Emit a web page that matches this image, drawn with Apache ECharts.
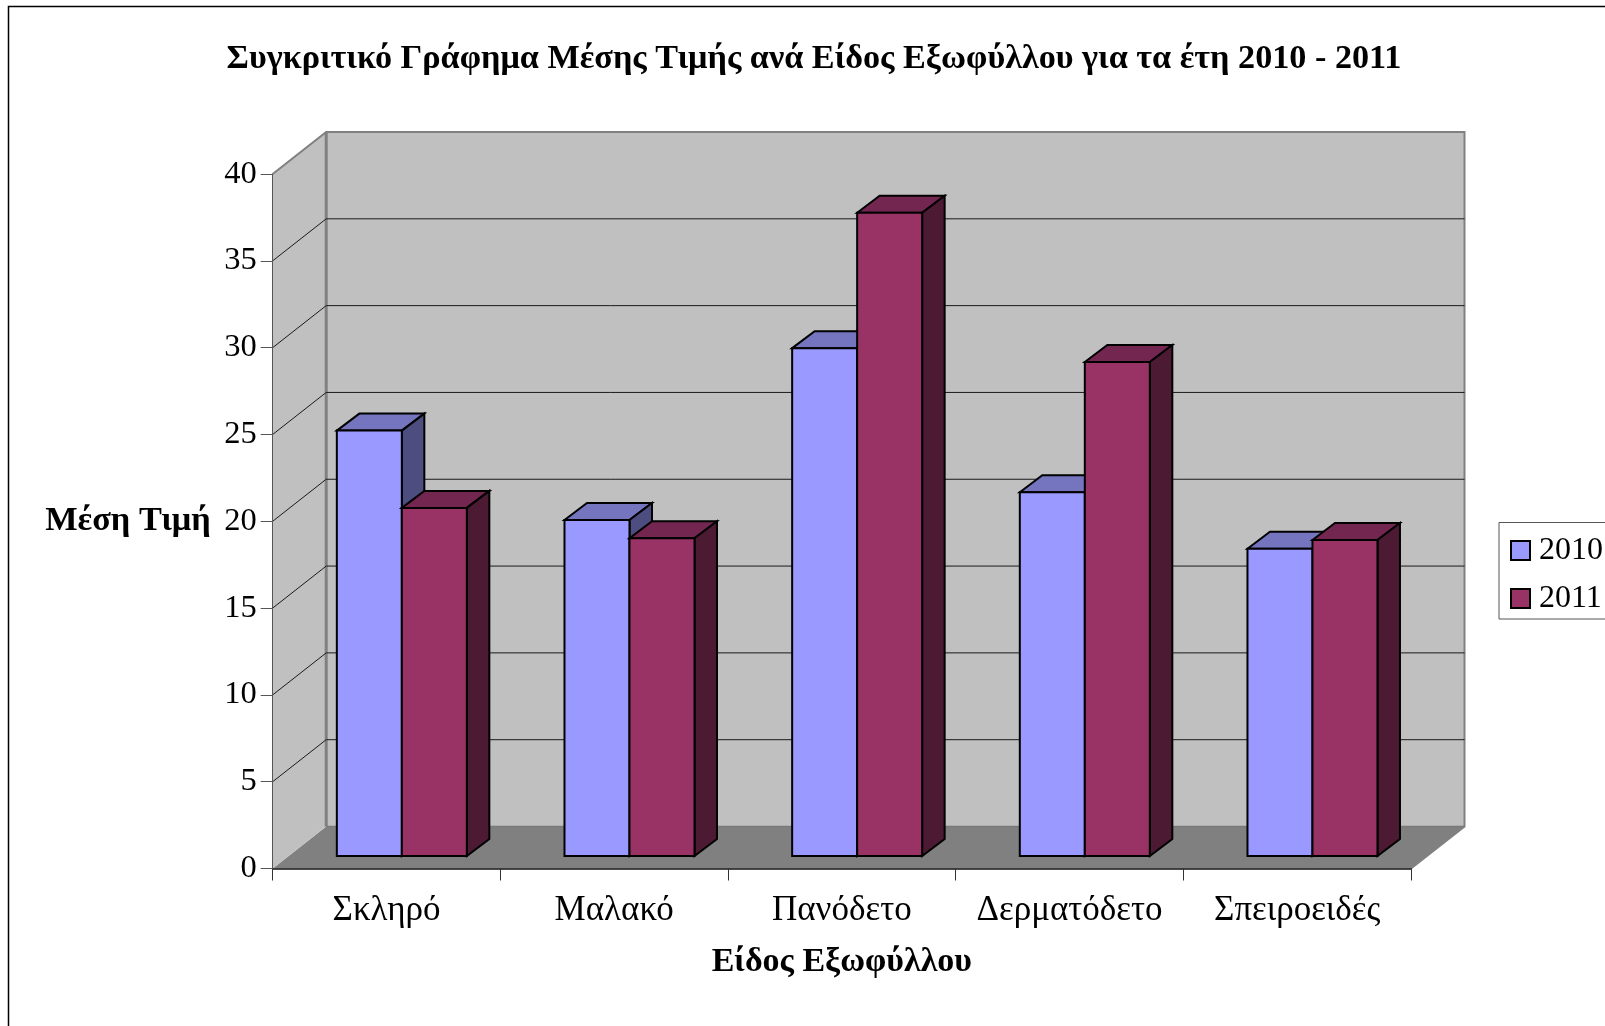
<!DOCTYPE html>
<html><head><meta charset="utf-8">
<style>html,body{margin:0;padding:0;background:#fff;overflow:hidden}#c{width:1605px;height:1026px}</style>
<script src="https://cdn.jsdelivr.net/npm/echarts@6/dist/echarts.min.js"></script>
</head><body><div id="c"></div>
<script>
const categories = ['Σκληρό','Μαλακό','Πανόδετο','Δερματόδετο','Σπειροειδές'];
const values2010 = [24.5,19.35,29.25,20.95,17.7];
const values2011 = [20.05,18.3,37.05,28.45,18.2];
const yTicks = [5,10,15,20,25,30,35];
const FONT = '"Liberation Serif", serif';

const chart = echarts.init(document.getElementById('c'));
const WALL_DX = 53.5, WALL_DY = 42;
const BAR_OFF_X = 15.3, BAR_OFF_Y = 12.5, BAR_W = 65, BAR_DX = 22.5, BAR_DY = 17;

function walls(params, api){
  const r = params.coordSys;
  const x0=r.x, x1=r.x+r.width, y0=r.y, y1=r.y+r.height;
  return {type:'group',children:[
    {type:'polygon',shape:{points:[[x0,y1],[x0+WALL_DX,y1-WALL_DY],[x1+WALL_DX,y1-WALL_DY],[x1,y1]]},style:{fill:'#808080'}},
    {type:'polygon',shape:{points:[[x0,y0],[x0+WALL_DX,y0-WALL_DY],[x0+WALL_DX,y1-WALL_DY],[x0,y1]]},style:{fill:'#c0c0c0'}},
    {type:'rect',shape:{x:x0+WALL_DX,y:y0-WALL_DY,width:r.width,height:r.height},style:{fill:'#c0c0c0'}},
    {type:'polyline',shape:{points:[[x0,y0],[x0+WALL_DX,y0-WALL_DY],[x1+WALL_DX,y0-WALL_DY],[x1+WALL_DX,y1-WALL_DY],[x1,y1]]},style:{fill:'none',stroke:'#808080',lineWidth:2}},
    {type:'line',shape:{x1:x0+WALL_DX,y1:y0-WALL_DY,x2:x0+WALL_DX,y2:y1-WALL_DY},style:{stroke:'#808080',lineWidth:3}},
    {type:'line',shape:{x1:x0+WALL_DX,y1:y1-WALL_DY,x2:x1+WALL_DX,y2:y1-WALL_DY},style:{stroke:'#7a7a7a',lineWidth:1.5}}
  ]};
}
function gridLine(params, api){
  const r = params.coordSys;
  const y = api.coord([0, api.value(0)])[1];
  return {type:'polyline',shape:{points:[[r.x,y],[r.x+WALL_DX,y-WALL_DY],[r.x+r.width+WALL_DX,y-WALL_DY]]},style:{fill:'none',stroke:'#1a1a1a',lineWidth:1}};
}
function bar3d(side, top, dark){
  return function(params, api){
    const cat = api.value(0), val = api.value(1);
    const p = api.coord([cat,val]), b = api.coord([cat,0]);
    const cx = p[0] + BAR_OFF_X + (side<0 ? -BAR_W : 0);
    const ty = p[1] - BAR_OFF_Y, by = b[1] - BAR_OFF_Y;
    const st = fill => ({fill, stroke:'#000', lineWidth:2, lineJoin:'miter'});
    return {type:'group',children:[
      {type:'polygon',shape:{points:[[cx,ty],[cx+BAR_DX,ty-BAR_DY],[cx+BAR_W+BAR_DX,ty-BAR_DY],[cx+BAR_W,ty]]},style:st(top)},
      {type:'polygon',shape:{points:[[cx+BAR_W,ty],[cx+BAR_W+BAR_DX,ty-BAR_DY],[cx+BAR_W+BAR_DX,by-BAR_DY],[cx+BAR_W,by]]},style:st(dark)},
      {type:'rect',shape:{x:cx,y:ty,width:BAR_W,height:by-ty},style:st(api.visual('color'))}
    ]};
  };
}
const toData = arr => arr.map((v,i)=>[i,v]);

chart.setOption({
  animation:false,
  backgroundColor:'#fff',
  title:{text:'Συγκριτικό Γράφημα Μέσης Τιμής ανά Είδος Εξωφύλλου για τα έτη 2010 - 2011',
    left:809,top:37,textAlign:'center',textStyle:{fontFamily:FONT,fontWeight:'bold',fontSize:34.2,color:'#000'}},
  legend:{data:['2010','2011'],left:1499,top:522.5,orient:'vertical',icon:'rect',itemWidth:19,itemHeight:19,itemGap:16,
    padding:[12,12,4.5,11],backgroundColor:'#fff',borderColor:'#555',borderWidth:1,
    textStyle:{fontFamily:FONT,fontSize:32,color:'#000',padding:[0,0,0,4]},selectedMode:false},
  grid:{left:272.7,right:194,top:174,bottom:157.5,outerBoundsMode:'none',containLabel:false},
  xAxis:{type:'category',data:categories,z:5,
    name:'Είδος Εξωφύλλου',nameLocation:'middle',nameGap:77,
    nameTextStyle:{fontFamily:FONT,fontWeight:'bold',fontSize:34,color:'#000'},
    axisLine:{show:true,lineStyle:{color:'#111',width:1.5}},
    axisTick:{show:true,length:12,interval:0,alignWithLabel:false,lineStyle:{color:'#333',width:1}},
    axisLabel:{interval:0,fontFamily:FONT,fontSize:35,color:'#000',margin:25},splitLine:{show:false}},
  yAxis:{type:'value',min:0,max:40,interval:5,z:5,
    name:'Μέση Τιμή',nameLocation:'middle',nameRotate:0,nameGap:62,
    nameTextStyle:{fontFamily:FONT,fontWeight:'bold',fontSize:34.3,color:'#000'},
    axisLine:{show:true,lineStyle:{color:'#555',width:1}},
    axisTick:{show:true,length:12,lineStyle:{color:'#555',width:1}},
    axisLabel:{fontFamily:FONT,fontSize:32.5,color:'#000',margin:16,padding:[8,0,0,0]},splitLine:{show:false}},
  graphic:[{type:'rect',shape:{x:8.5,y:6.5,width:1800,height:1200},style:{fill:'none',stroke:'#000',lineWidth:1.5},silent:true,z:100}],
  series:[
    {type:'custom',name:'walls',renderItem:walls,data:[[0]],z:1,silent:true,tooltip:{show:false},encode:{x:0,y:0}},
    {type:'custom',name:'grid',renderItem:gridLine,data:yTicks.map(v=>[v]),z:2,silent:true,encode:{y:0}},
    {type:'custom',name:'2010',renderItem:bar3d(-1,'#7575bf','#4d4d80'),data:toData(values2010),z:3,
      encode:{x:0,y:1},itemStyle:{color:'#9999ff',borderColor:'#000',borderWidth:2}},
    {type:'custom',name:'2011',renderItem:bar3d(1,'#732650','#4d1a33'),data:toData(values2011),z:4,
      encode:{x:0,y:1},itemStyle:{color:'#993366',borderColor:'#000',borderWidth:2}}
  ]
});
</script></body></html>
